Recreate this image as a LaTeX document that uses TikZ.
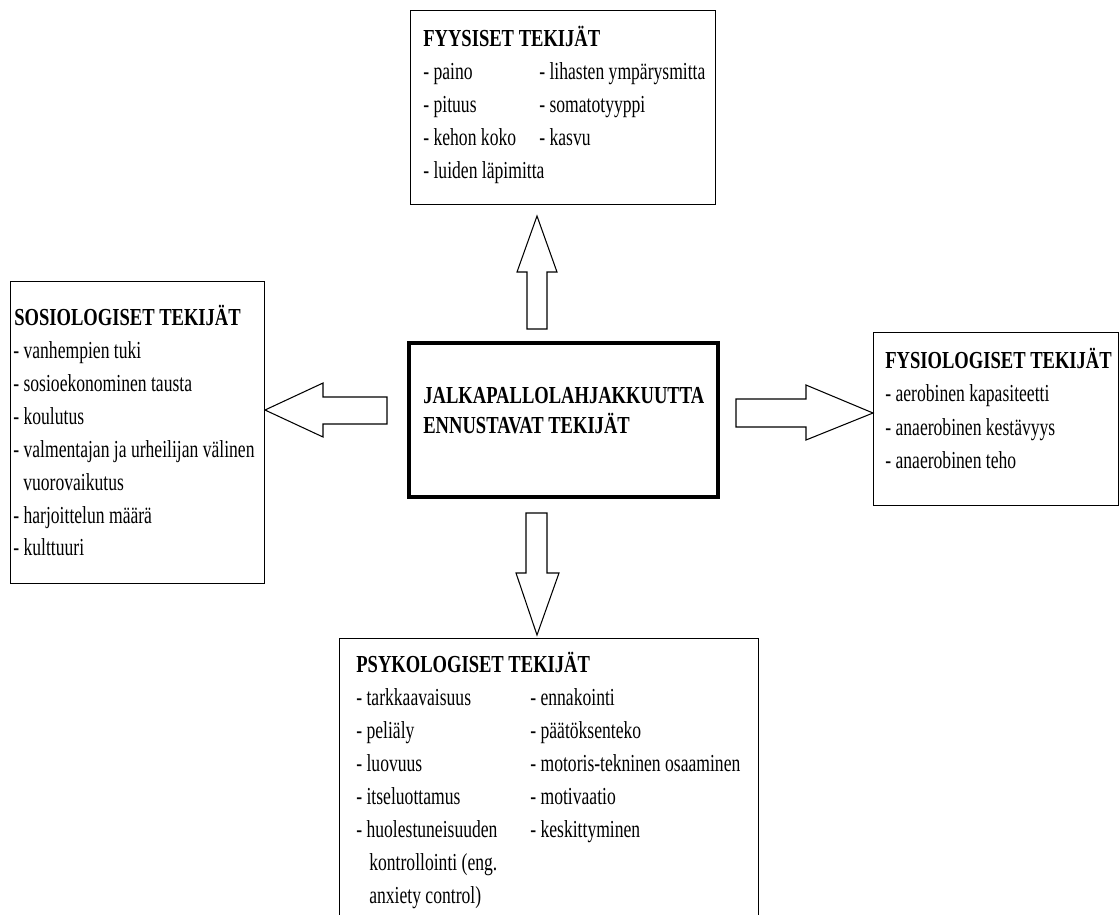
\documentclass[tikz,border=0pt]{standalone}
\usepackage{fontspec}
\setmainfont{Liberation Serif}[FakeStretch=0.72]
\newfontfamily\ttlfont{Liberation Serif}[FakeStretch=0.76]
\usetikzlibrary{positioning}

\tikzset{
  box/.style={draw, line width=0.8pt, anchor=north west, inner sep=0pt},
  mainbox/.style={draw, line width=2.3pt, anchor=north west, inner sep=0pt},
  lbl/.style={anchor=base west, inner sep=0pt, font=\fontsize{13.9}{16}\selectfont},
  ttl/.style={lbl, font=\fontsize{13.9}{16}\selectfont\ttlfont\bfseries},
  blockarrow/.style={draw, line width=0.6pt, line join=miter, fill=white}
}

\begin{document}
\begin{tikzpicture}[x=0.02cm, y=-0.02cm]
  \useasboundingbox (0,0) rectangle (1119,914);
  \clip (0,0) rectangle (1119,914);

  % laatikot
  \node[box, minimum width=6.1cm, minimum height=3.88cm] (fyys) at (410,10) {};
  \node[box, minimum width=5.08cm, minimum height=6.04cm] (sosio) at (10,281) {};
  \node[box, minimum width=4.9cm, minimum height=3.46cm] (fysio) at (873,332) {};
  \node[box, minimum width=8.38cm, minimum height=6.2cm] (psyk) at (339,638) {};
  \node[mainbox, minimum width=6.18cm, minimum height=3.08cm] (keski) at (407,341) {};

  % nuolet
  \draw[blockarrow] (527,329) -- (527,272) -- (517,272) -- (537,216) -- (557,272) -- (547,272) -- (547,329) -- cycle;
  \draw[blockarrow] (526,513) -- (526,573) -- (516,573) -- (537,635) -- (559,573) -- (547,573) -- (547,513) -- cycle;
  \draw[blockarrow] (387,397) -- (323,397) -- (323,383) -- (265,410) -- (323,437) -- (323,424) -- (387,424) -- cycle;
  \draw[blockarrow] (736,399) -- (806,399) -- (806,385) -- (873,413) -- (806,440) -- (806,427) -- (736,427) -- cycle;

  % keskus
  \node[ttl] (keski-a) at (423,403) {JALKAPALLOLAHJAKKUUTTA};
  \node[ttl] (keski-b) at (423,433) {ENNUSTAVAT TEKIJÄT};

  % fyysiset
  \node[ttl] (fyys-t) at (423,46) {FYYSISET TEKIJÄT};
  \foreach \t [count=\i] in {paino, pituus, kehon koko, luiden läpimitta}
    \node[lbl] (fyys-a\i) at (423,46+33*\i) {- \t};
  \foreach \t [count=\i] in {lihasten ympärysmitta, somatotyyppi, kasvu}
    \node[lbl] (fyys-b\i) at (539,46+33*\i) {- \t};

  % sosiologiset
  \node[ttl] (sosio-t) at (14,325) {SOSIOLOGISET TEKIJÄT};
  \node[lbl] (sosio-1) at (13,358) {- vanhempien tuki};
  \node[lbl] (sosio-2) at (13,391) {- sosioekonominen tausta};
  \node[lbl] (sosio-3) at (13,424) {- koulutus};
  \node[lbl] (sosio-4) at (13,457) {- valmentajan ja urheilijan välinen};
  \node[lbl] (sosio-5) at (23,490) {vuorovaikutus};
  \node[lbl] (sosio-6) at (13,523) {- harjoittelun määrä};
  \node[lbl] (sosio-7) at (13,555) {- kulttuuri};

  % fysiologiset
  \node[ttl] (fysio-t) at (885,368) {FYSIOLOGISET TEKIJÄT};
  \foreach \t [count=\i] in {aerobinen kapasiteetti, anaerobinen kestävyys, anaerobinen teho}
    \node[lbl] (fysio-\i) at (885,368+33.5*\i) {- \t};

  % psykologiset
  \node[ttl] (psyk-t) at (356,672) {PSYKOLOGISET TEKIJÄT};
  \foreach \t [count=\i] in {tarkkaavaisuus, peliäly, luovuus, itseluottamus, huolestuneisuuden}
    \node[lbl] (psyk-a\i) at (356,672+33*\i) {- \t};
  \node[lbl] (psyk-a6) at (369,870) {kontrollointi (eng.};
  \node[lbl] (psyk-a7) at (369,903) {anxiety control)};
  \foreach \t [count=\i] in {ennakointi, päätöksenteko, motoris-tekninen osaaminen, motivaatio, keskittyminen}
    \node[lbl] (psyk-b\i) at (530,672+33*\i) {- \t};
\end{tikzpicture}
\end{document}
